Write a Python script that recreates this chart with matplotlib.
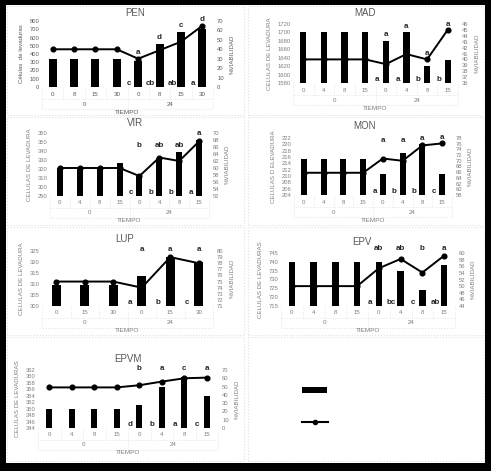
import numpy as np
import matplotlib
matplotlib.use("Agg")
import matplotlib.pyplot as plt
from matplotlib.patches import Rectangle
from matplotlib.lines import Line2D

plt.rcParams['font.family'] = ['Liberation Sans', 'DejaVu Sans']

W, H = 491, 471
GRAY = '#7f7f7f'

# ---- data ----
cats_4 = ['0', '4', '8', '15', '0', '4', '8', '15']
cats_pen = ['0', '8', '15', '30', '0', '8', '15', '30']
cats_lup = ['0', '15', '30', '0', '15', '30']
groups = ['0', '24']

pen_bars = [340, 340, 340, 340, 310, 520, 670, 700]
pen_line = [40, 40, 40, 40, 30, 39, 48, 65]
pen_top = ['', '', '', '', 'a', 'd', 'c', 'd']
pen_bot = ['', '', '', '', 'c', 'cb', 'ab', 'a']

mad_bars = [1700, 1700, 1700, 1700, 1680, 1700, 1620, 1634]
mad_line = [40, 40, 40, 40, 39.2, 40.9, 40, 45]
mad_top = ['', '', '', '', 'a', 'a', 'a', 'a']
mad_bot = ['', '', '', '', 'a', 'a', 'b', 'b']

vir_bars = [321, 321, 321, 327, 312, 332, 339, 352]
vir_line = [60, 60, 60, 60, 57.7, 63, 62, 67.6]
vir_top = ['', '', '', '', 'b', 'ab', 'ab', 'a']
vir_bot = ['', '', '', '', 'c', 'b', 'b', 'a']

mon_bars = [215.5, 215.5, 215.5, 215.5, 210.6, 217.3, 220, 210.6]
mon_line = [65.8, 65.8, 65.8, 65.8, 70.8, 70, 75.4, 76.1]
mon_top = ['', '', '', '', 'a', 'a', 'a', 'a']
mon_bot = ['', '', '', '', 'a', 'b', 'b', 'c']

lup_bars = [309.5, 309.5, 309.5, 313.6, 322.4, 319.8]
lup_line = [75, 75, 75, 74, 79, 78]
lup_top = ['', '', '', 'a', 'a', 'a']
lup_bot = ['', '', '', 'a', 'b', 'c']

epv_bars = [740, 740, 740, 740, 740, 735, 723.8, 738]
epv_line = [50, 50, 50, 50, 55.4, 58.2, 54.1, 59.2]
epv_top = ['', '', '', '', 'ab', 'ab', 'b', 'a']
epv_bot = ['', '', '', '', 'a', 'bc', 'c', 'ab']

epvm_bars = [350, 350, 350, 350, 351, 356.7, 359.7, 354]
epvm_line = [49, 49, 49, 49, 51.6, 56, 60, 60.8]
epvm_top = ['', '', '', '', 'b', 'a', 'c', 'a']
epvm_bot = ['', '', '', '', 'd', 'b', 'a', 'c']


def rect(l, t, r, b):
    return [l / W, 1 - b / H, (r - l) / W, (b - t) / H]


fig = plt.figure(figsize=(W / 100, H / 100), dpi=100, facecolor='black')
fig.patches.append(Rectangle((6 / W, 1 - 463 / H), 479 / W, 458 / H,
                             transform=fig.transFigure, facecolor='white',
                             edgecolor='none', zorder=-2))
# panel boxes
for (l, t, r, b) in [(7, 6, 244, 115), (248, 6, 484, 115), (7, 117, 244, 225),
                     (248, 117, 484, 225), (7, 227, 244, 335), (248, 227, 484, 335),
                     (7, 337, 244, 461), (248, 337, 484, 461)]:
    fig.patches.append(Rectangle((l / W, 1 - b / H), (r - l) / W, (b - t) / H,
                                 transform=fig.transFigure, facecolor='none',
                                 edgecolor='#e0e0e0', lw=0.8, ls=':', zorder=-1))


def panel(box, title, tpos, cats, bars, line, top, bot, lylim, lstep, rylim, rstep,
          ylabel, width=0.33, top_floor=0.0, tcolor=GRAY):
    l, t, r, b = box
    ax = fig.add_axes(rect(l, t, r, b))
    ax.set_facecolor('none')
    axh = b - t
    n = len(cats)
    x = np.arange(n)
    ax.bar(x, bars, width=width, color='black', zorder=2)
    ax.set_ylim(*lylim)
    ax.set_yticks(np.arange(lylim[0], lylim[1] + lstep / 2, lstep))
    ax.set_xlim(-0.5, n - 0.5)
    ax.set_xticks([])
    for s in ax.spines.values():
        s.set_visible(False)
    ax.tick_params(axis='y', length=0, labelsize=4.2, labelcolor=tcolor, pad=2)
    ax.set_ylabel(ylabel, fontsize=4.4, color=tcolor, labelpad=4)

    ax2 = ax.twinx()
    ax2.plot(x, line, color='black', lw=1.4, marker='o', ms=3.4, zorder=3)
    ax2.set_ylim(*rylim)
    ax2.set_yticks(np.arange(rylim[0], rylim[1] + rstep / 2, rstep))
    for s in ax2.spines.values():
        s.set_visible(False)
    ax2.tick_params(axis='y', length=0, labelsize=4.2, labelcolor=tcolor, pad=3)
    ax2.set_ylabel('%VIABILIDAD', fontsize=4.4, color=tcolor, rotation=90, labelpad=4)

    # significance letters
    for i in range(n):
        fb = (bars[i] - lylim[0]) / (lylim[1] - lylim[0])
        fl = (line[i] - rylim[0]) / (rylim[1] - rylim[0])
        if top[i]:
            ax.text(i, max(max(fb, fl) + 0.1, top_floor),
                    top[i], transform=ax.get_xaxis_transform(), ha='center', va='center',
                    fontsize=5.8, fontweight='bold', color='#262626', zorder=4)
        if bot[i]:
            ax.text(i - 0.42, 0.06, bot[i], transform=ax.get_xaxis_transform(),
                    ha='center', va='center', fontsize=5.8, fontweight='bold',
                    color='#262626', zorder=4)

    # category table under the axis
    tr = ax.get_xaxis_transform()
    half = n // 2
    for i, c in enumerate(cats):
        ax.text(i, -7 / axh, c, transform=tr, ha='center', va='center',
                fontsize=4.4, color=tcolor)
    for g, gx in zip(groups, [(half - 1) / 2, half + (half - 1) / 2]):
        ax.text(gx, -17 / axh, g, transform=tr, ha='center', va='center',
                fontsize=4.4, color=tcolor)
    ax.text((n - 1) / 2, -25 / axh, 'TIEMPO', transform=tr, ha='center', va='center',
            fontsize=4.6, color=tcolor)
    lc = '#d9d9d9'
    for i in range(n + 1):
        bottom = -22 / axh if i in (0, half, n) else -12 / axh
        ax.plot([i - 0.5, i - 0.5], [0, bottom], transform=tr, color=lc, lw=0.5,
                ls=':', clip_on=False)
    ax.plot([-0.5, n - 0.5], [-12 / axh, -12 / axh], transform=tr, color=lc, lw=0.5,
            ls=':', clip_on=False)
    ax.plot([-0.5, n - 0.5], [-22 / axh, -22 / axh], transform=tr, color=lc, lw=0.5,
            ls=':', clip_on=False)

    fig.text(tpos[0] / W, 1 - tpos[1] / H, title, ha='center', va='center',
             fontsize=7, color='#595959')
    return ax


panel((42, 21, 213, 87), 'PEN', (135, 13), cats_pen, pen_bars, pen_line, pen_top, pen_bot,
      (0, 800), 100, (0, 70), 10, 'Células  de levaduras', width=0.38, tcolor='#595959')
panel((293, 24, 458, 83), 'MAD', (365, 13), cats_4, mad_bars, mad_line, mad_top, mad_bot,
      (1580, 1720), 20, (36, 46), 1, 'CELULAS DE LEVADURA', width=0.3)
panel((50, 133, 209, 196), 'VIR', (135, 123), cats_4, vir_bars, vir_line, vir_top, vir_bot,
      (290, 360), 10, (52, 70), 2, 'CELULAS DE LEVADURA', width=0.3, top_floor=0.8)
panel((294, 138, 452, 195), 'MON', (365, 126), cats_4, mon_bars, mon_line, mon_top, mon_bot,
      (204, 222), 2, (58, 78), 2, 'CELULAS D ELEVADURA', width=0.3, top_floor=0.95)
panel((42, 251, 213, 306), 'LUP', (125, 239), cats_lup, lup_bars, lup_line, lup_top, lup_bot,
      (300, 325), 5, (71, 80), 1, 'CELULAS DE LEVADURA', width=0.3, top_floor=1.02)
panel((281, 253, 455, 306), 'EPV', (362, 242), cats_4, epv_bars, epv_line, epv_top, epv_bot,
      (715, 745), 5, (44, 60), 2, 'CELULAS DE LEVADURAS', width=0.3, top_floor=1.08)
panel((38, 370, 218, 428), 'EPVM', (128, 359), cats_4, epvm_bars, epvm_line, epvm_top, epvm_bot,
      (344, 362), 2, (0, 70), 10, 'CELULAS DE LEVADURAS', width=0.28, top_floor=1.03)

# legend cell (no text, only the two keys)
lax = fig.add_axes(rect(248, 337, 484, 461))
lax.set_xlim(248, 484)
lax.set_ylim(461, 337)
lax.axis('off')
lax.add_patch(Rectangle((302, 387), 25, 6, facecolor='black', edgecolor='none'))
lax.add_line(Line2D([302, 328], [422, 422], color='black', lw=1.5))
lax.add_line(Line2D([315], [422], color='black', marker='o', ms=3))

fig.savefig('out.png', dpi=100, facecolor=fig.get_facecolor())
